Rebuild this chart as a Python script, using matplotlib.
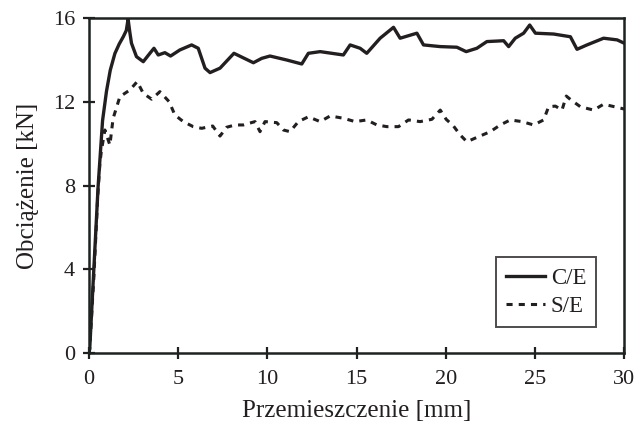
import numpy as np
import matplotlib.pyplot as plt

plt.rcParams['font.family'] = ['Liberation Serif', 'DejaVu Serif']

# C/E curve (solid)
ce_x = [0.0, 0.05, 0.28, 0.52, 0.77, 0.99, 1.2, 1.46, 1.7, 1.93, 2.1, 2.2, 2.3, 2.39, 2.67,
        3.05, 3.42, 3.65, 3.89, 4.26, 4.58, 5.1, 5.76, 6.13, 6.51, 6.79, 7.35, 8.13,
        9.22, 9.69, 10.15, 11.09, 11.93, 12.3, 12.96, 14.26, 14.64, 15.2, 15.57, 16.32,
        17.07, 17.44, 18.38, 18.75, 19.69, 20.62, 21.14, 21.74, 22.3, 23.24, 23.52,
        23.89, 24.36, 24.7, 25.02, 26.04, 26.98, 27.35, 27.91, 28.84, 29.6, 30.0]
ce_y = [0.0, 0.2, 4.0, 7.95, 11.1, 12.5, 13.5, 14.3, 14.75, 15.1, 15.4, 15.94, 15.3, 14.79,
        14.15, 13.91, 14.31, 14.55, 14.23, 14.34, 14.18, 14.47, 14.71, 14.55, 13.6, 13.39,
        13.6, 14.31, 13.86, 14.07, 14.18, 13.99, 13.8, 14.31, 14.39, 14.23, 14.71, 14.55,
        14.31, 15.03, 15.55, 15.03, 15.27, 14.71, 14.63, 14.6, 14.39, 14.55, 14.87, 14.91,
        14.63, 15.03, 15.27, 15.66, 15.27, 15.23, 15.1, 14.5, 14.71, 15.03, 14.95, 14.79]

# S/E curve (dashed)
se_x = [0.0, 0.05, 0.28, 0.5, 0.62, 0.71, 0.9, 1.18, 1.27, 1.36, 1.74, 2.3, 2.71, 3.05,
        3.52, 3.98, 4.5, 4.82, 5.29, 5.85, 6.32, 6.94, 7.35, 7.72, 8.19, 8.65, 9.31,
        9.59, 9.87, 10.53, 10.9, 11.27, 11.74, 12.3, 12.96, 13.52, 14.26, 14.92, 15.57,
        16.14, 16.7, 17.35, 17.91, 18.56, 19.22, 19.69, 20.02, 20.43, 20.81, 21.18,
        21.83, 22.49, 23.05, 23.61, 24.27, 24.92, 25.48, 25.76, 26.14, 26.51, 26.75,
        27.02, 27.54, 28.28, 28.84, 29.6, 30.0]
se_y = [0.0, 0.2, 3.6, 7.5, 9.06, 9.69, 10.65, 9.93, 10.57, 11.2, 12.24, 12.56, 12.96, 12.4,
        12.12, 12.48, 12.0, 11.37, 11.05, 10.81, 10.73, 10.84, 10.36, 10.78, 10.89,
        10.89, 11.05, 10.57, 11.05, 11.0, 10.65, 10.57, 11.05, 11.28, 11.05, 11.32,
        11.21, 11.05, 11.13, 10.89, 10.81, 10.81, 11.13, 11.05, 11.16, 11.6, 11.16,
        10.84, 10.41, 10.09, 10.33, 10.57, 10.89, 11.13, 11.05, 10.89, 11.13, 11.76,
        11.79, 11.6, 12.27, 12.08, 11.76, 11.6, 11.88, 11.73, 11.65]

x_ticks = [0, 5, 10, 15, 20, 25, 30]
y_ticks = [0, 4, 8, 12, 16]

ink = '#231f20'

fig = plt.figure(figsize=(6.39, 4.26), dpi=100)
ax = fig.add_axes([0.139, 0.171, 0.838, 0.787])

ax.plot(ce_x, ce_y, color=ink, lw=2.4, label='C/E', solid_joinstyle='round')
ax.plot(se_x, se_y, color=ink, lw=2.2, linestyle=(0, (2, 2)), label='S/E')

ax.set_xlim(0, 30)
ax.set_ylim(0, 16)
ax.set_xticks(x_ticks)
ax.set_yticks(y_ticks)
ax.tick_params(direction='inout', length=8, width=1.6, color=ink,
               labelsize=16, labelcolor=ink)
ax.tick_params(axis='x', pad=8)
ax.tick_params(axis='y', pad=6)
for s in ax.spines.values():
    s.set_linewidth(1.8)
    s.set_color('#1c2321')

ax.set_xlabel('Przemieszczenie [mm]', fontsize=18, color=ink, labelpad=8)
ax.set_ylabel('Obciążenie [kN]', fontsize=18, color=ink, labelpad=10)

leg = ax.legend(loc='lower right', bbox_to_anchor=(0.948, 0.078), borderaxespad=0,
                fontsize=16.5, frameon=True, fancybox=False, edgecolor=ink,
                handlelength=1.7, handletextpad=0.25, borderpad=0.45, labelspacing=0.3)
leg.get_frame().set_linewidth(1.4)
for t in leg.get_texts():
    t.set_color(ink)

fig.savefig('out.png', dpi=100)
